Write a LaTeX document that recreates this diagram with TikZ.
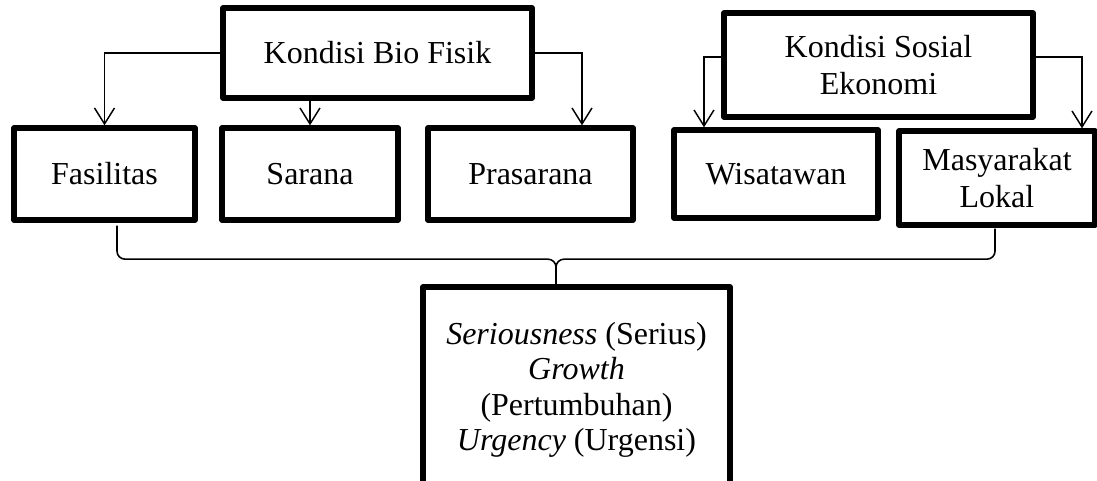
\documentclass[tikz,border=0pt]{standalone}
\usepackage{fontspec}
\setmainfont{Liberation Serif}
\usetikzlibrary{arrows.meta, positioning, calc}
\definecolor{ink}{HTML}{000000}
\tikzset{
  box/.style     = {rectangle, draw=ink, line width=2pt, line join=round,
                    fill=white, align=center, font=\fontsize{12}{13.9}\selectfont,
                    inner sep=2pt},
  flow/.style    = {-{Straight Barb[length=6pt, width=7.5pt]}, line width=0.55pt, draw=ink},
  bracket/.style = {line width=0.6pt, draw=ink, rounded corners=3pt},
}

\begin{document}
\begin{tikzpicture}[x=0.375pt, y=-0.375pt]
  \useasboundingbox (0,0) rectangle (1097,481);

  \node[box, minimum width=115.9pt, minimum height=33.75pt] (biofisik) at (377.5,53) {Kondisi Bio Fisik};
  \node[box, minimum width=115.9pt, minimum height=39pt] (sosial) at (878.5,65) {Kondisi Sosial\\Ekonomi};

  \node[box, minimum width=67.9pt, minimum height=34.5pt] (fasilitas) at (104.5,174) {Fasilitas};
  \node[box, minimum width=66pt, minimum height=34.5pt] (sarana) at (310,174) {Sarana};
  \node[box, minimum width=76.9pt, minimum height=34.5pt] (prasarana) at (530.5,174) {Prasarana};
  \node[box, minimum width=76.5pt, minimum height=33pt] (wisatawan) at (776,174) {Wisatawan};
  \node[box, minimum width=73.5pt, minimum height=35.25pt] (masyarakat) at (997,178) {Masyarakat\\Lokal};

  \node[box, minimum width=115.1pt, minimum height=77.3pt, font=\fontsize{12}{13.3}\selectfont] (sgu) at (576.5,390)
    {\textit{Seriousness} (Serius)\\\textit{Growth}\\(Pertumbuhan)\\\textit{Urgency} (Urgensi)};

  \draw[flow] (biofisik.west) -| (fasilitas.north);
  \draw[flow] (biofisik.south -| sarana.north) -- (sarana.north);
  \draw[flow] (biofisik.east) -| ($(prasarana.north)+(51.5,0)$);
  \draw[flow] ($(sosial.west)+(0,-8)$) -| ($(wisatawan.north)+(-72,0)$);
  \draw[flow] ($(sosial.east)+(0,-8)$) -| ($(masyarakat.north)+(85,0)$);

  \coordinate (bl) at ($(fasilitas.south)+(12.5,3)$);
  \coordinate (br) at ($(masyarakat.south)+(-2,1)$);
  \coordinate (bmid) at ($(bl)!0.5!(br)+(0,32)$);
  \draw[bracket] (bl) |- (bmid) -- (bmid |- sgu.north);
  \draw[bracket] (br) |- (bmid) -- (bmid |- sgu.north);
\end{tikzpicture}
\end{document}
